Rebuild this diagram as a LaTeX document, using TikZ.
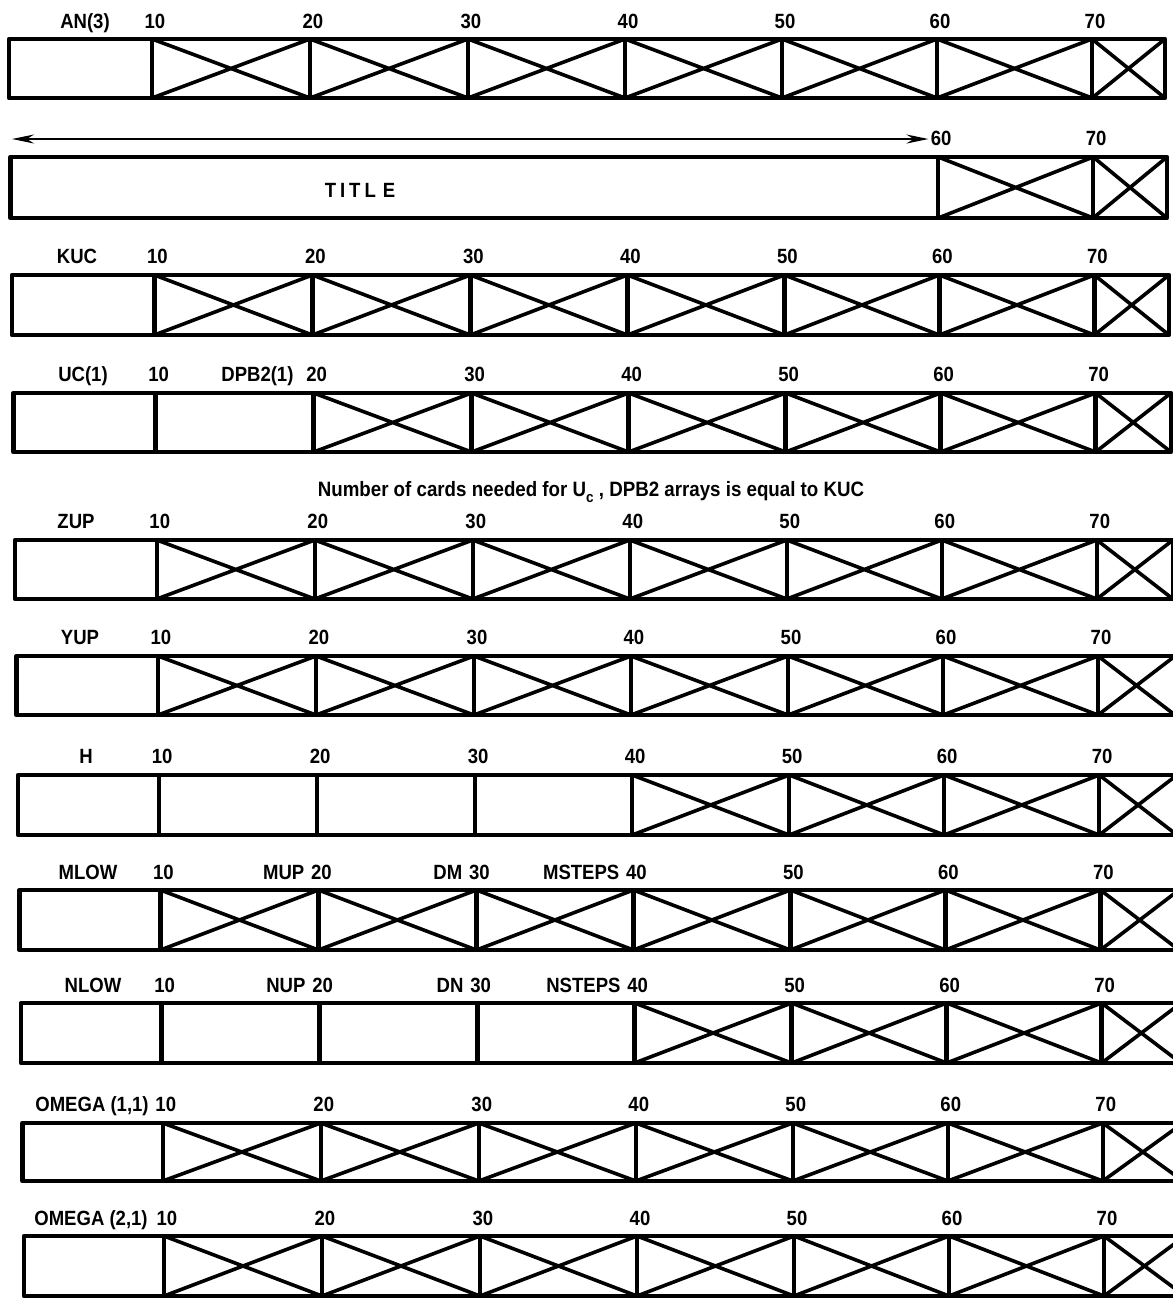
\documentclass[tikz,border=0pt]{standalone}
\usepackage{fontspec}
\setmainfont{Liberation Sans}[FakeStretch=0.9]
\usetikzlibrary{arrows.meta}
\tikzset{
  cardframe/.style={line width=2.4pt, line join=round},
  divider/.style={line width=2.2pt},
  crossline/.style={line width=1.8pt},
  lab/.style={font=\bfseries\fontsize{10.3}{12}\selectfont, inner sep=0pt, anchor=base},
  notelab/.style={font=\bfseries\fontsize{10.4}{12}\selectfont, inner sep=0pt, anchor=base},
  spanarrow/.style={line width=1.1pt, {Stealth[length=11pt,width=4.5pt]}-{Stealth[length=11pt,width=4.5pt]}},
}
% #1 row index, #2 top, #3 bottom, #4 first divider shown, #5 first crossed cell
\newcommand{\cardrow}[5]{%
  \pgfmathsetmacro{\rL}{9+1.5*#1}%
  \pgfmathsetmacro{\rR}{1165+2*#1}%
  \pgfmathsetmacro{\rS}{1.2*#1}%
  \draw[cardframe] (\rL,#2) rectangle (\rR,#3);
  \foreach \k/\a/\b in {1/152/310,2/310/468,3/468/625,4/625/782,5/782/937,6/937/1092,7/1092/0}{%
    \pgfmathsetmacro{\xa}{\a+\rS}%
    \pgfmathsetmacro{\xb}{ifthenelse(\k==7,\rR,\b+\rS)}%
    \ifnum\k<#4\relax\else\draw[divider] (\xa,#2) -- (\xa,#3);\fi
    \ifnum\k<#5\relax\else\draw[crossline] (\xa,#2) -- (\xb,#3) (\xa,#3) -- (\xb,#2);\fi
  }%
}
% #1 row index, #2 baseline, #3 first number shown
\newcommand{\numrow}[3]{%
  \foreach \k/\a in {1/152,2/310,3/468,4/625,5/782,6/937,7/1092}{%
    \ifnum\k<#3\relax\else
      \pgfmathsetmacro{\xa}{\a+1.2*#1+3}%
      \node[lab] (n#1-\k) at (\xa,#2) {\the\numexpr\k*10\relax};
    \fi
  }%
}
\begin{document}
\begin{tikzpicture}[x=0.5pt,y=-0.5pt]
\useasboundingbox (0,0) rectangle (1173,1298);
\clip (0,0) rectangle (1173,1298);
\fill[white] (0,0) rectangle (1173,1298);

% Row 0: AN(3)
\cardrow{0}{39}{98}{1}{1}
\numrow{0}{28}{1}
\node[lab] (an) at (85,28) {AN(3)};

% Row 1: TITLE
\cardrow{1}{157}{218}{6}{6}
\numrow{1}{145}{6}
\coordinate (arrL) at (12,139);
\draw[spanarrow] (arrL) -- ([xshift=-1pt]n1-6.west |- arrL);
\node[lab,anchor=center] (title) at (360,190) {T\kern2pt I\kern2pt T\kern2pt L\kern3.5pt E};

% Row 2: KUC
\cardrow{2}{275}{335}{1}{1}
\numrow{2}{263}{1}
\node[lab] (kuc) at (77,263) {KUC};

% Row 3: UC(1), DPB2(1)
\cardrow{3}{393}{452}{1}{2}
\numrow{3}{381}{1}
\node[lab] (uc) at (83,381) {UC(1)};
\node[lab,anchor=base east] (dpb) at ([xshift=-6pt]n3-2.base west) {DPB2(1)};

% Note
\node[notelab] (note) at (591,496) {Number of cards needed for U\raisebox{-0.55ex}{\fontsize{7.5}{8}\selectfont c} , DPB2 arrays is equal to KUC};

% Row 4: ZUP
\cardrow{4}{540}{599}{1}{1}
\numrow{4}{528}{1}
\node[lab] (zup) at (76,528) {ZUP};

% Row 5: YUP
\cardrow{5}{656}{715}{1}{1}
\numrow{5}{644}{1}
\node[lab] (yup) at (80,644) {YUP};

% Row 6: H
\cardrow{6}{775}{835}{1}{4}
\numrow{6}{763}{1}
\node[lab] (h) at (86,763) {H};

% Row 7: MLOW, MUP, DM, MSTEPS
\cardrow{7}{890}{950}{1}{1}
\numrow{7}{879}{1}
\node[lab] (mlow) at (88,879) {MLOW};
\node[lab,anchor=base east] (mup) at ([xshift=-3pt]n7-2.base west) {MUP};
\node[lab,anchor=base east] (dm) at ([xshift=-3pt]n7-3.base west) {DM};
\node[lab,anchor=base east] (msteps) at ([xshift=-3pt]n7-4.base west) {MSTEPS};

% Row 8: NLOW, NUP, DN, NSTEPS
\cardrow{8}{1003}{1063}{1}{4}
\numrow{8}{992}{1}
\node[lab] (nlow) at (93,992) {NLOW};
\node[lab,anchor=base east] (nup) at ([xshift=-3pt]n8-2.base west) {NUP};
\node[lab,anchor=base east] (dn) at ([xshift=-3pt]n8-3.base west) {DN};
\node[lab,anchor=base east] (nsteps) at ([xshift=-3pt]n8-4.base west) {NSTEPS};

% Row 9: OMEGA (1,1)
\cardrow{9}{1123}{1181}{1}{1}
\numrow{9}{1111}{1}
\node[lab] (om1) at (92,1111) {OMEGA (1,1)};

% Row 10: OMEGA (2,1)
\cardrow{10}{1236}{1296}{1}{1}
\numrow{10}{1225}{1}
\node[lab] (om2) at (91,1225) {OMEGA (2,1)};
\end{tikzpicture}
\end{document}
